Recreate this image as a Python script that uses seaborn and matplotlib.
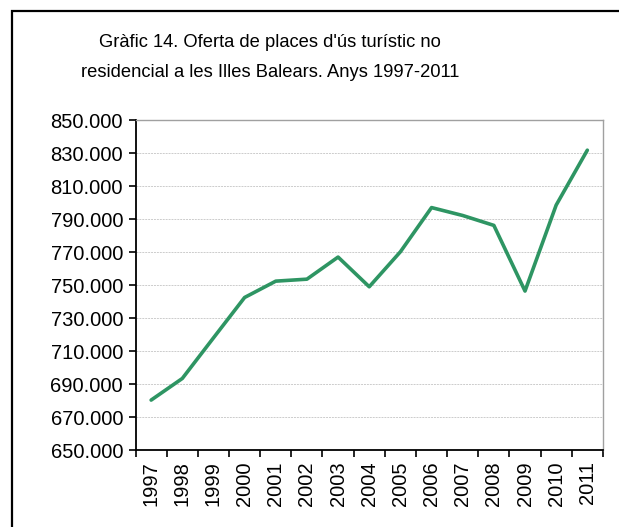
import matplotlib
matplotlib.use("Agg")
import matplotlib.pyplot as plt
import seaborn as sns
import pandas as pd
import numpy as np
from matplotlib.ticker import FuncFormatter, FixedLocator
from matplotlib.patches import Rectangle

years = ["1997", "1998", "1999", "2000", "2001", "2002", "2003", "2004",
         "2005", "2006", "2007", "2008", "2009", "2010", "2011"]
places = [680300, 693400, 718000, 742500, 752400, 753600, 767000, 749000,
          770200, 797000, 792200, 786200, 746400, 798500, 831800]
title = "Gràfic 14. Oferta de places d'ús turístic no\nresidencial a les Illes Balears. Anys 1997-2011"

sns.set_style("white")
plt.rcParams['font.family'] = ['Liberation Sans', 'DejaVu Sans']
plt.rcParams['text.color'] = 'black'
plt.rcParams['xtick.color'] = 'black'
plt.rcParams['ytick.color'] = 'black'

df = pd.DataFrame({"pos": np.arange(len(years)), "value": places})

fig = plt.figure(figsize=(6.19, 5.27), dpi=100)
ax = fig.add_axes([0.219, 0.146, 0.755, 0.626])

sns.lineplot(data=df, x="pos", y="value", ax=ax, color="#2E9563", linewidth=2.6)

ax.set_xlim(-0.5, len(years) - 0.5)
ax.set_ylim(650000, 850000)
ax.set_yticks(np.arange(650000, 850001, 20000))
ax.yaxis.set_major_formatter(FuncFormatter(lambda v, p: f"{int(v):,}".replace(",", ".")))
ax.xaxis.set_major_locator(FixedLocator(np.arange(-0.5, len(years), 1.0)))
ax.xaxis.set_minor_locator(FixedLocator(np.arange(len(years))))
ax.set_xticklabels([], minor=False)
ax.set_xticklabels(years, minor=True, rotation=90)
ax.tick_params(axis="x", which="minor", length=0, labelsize=14.5, pad=8, labelcolor="black")
ax.tick_params(axis="x", which="major", length=5, width=1.2, color="black", direction="out", bottom=True)
ax.tick_params(axis="y", length=5, width=1.2, color="black", direction="out", left=True,
               labelsize=14.5, pad=4, labelcolor="black")
ax.set_xlabel("")
ax.set_ylabel("")
ax.grid(axis="y", color="#cccccc", linewidth=0.7, linestyle=(0, (2, 1)))
ax.set_axisbelow(True)

for s in ["left", "bottom"]:
    ax.spines[s].set_color("black")
    ax.spines[s].set_linewidth(1.3)
for s in ["top", "right"]:
    ax.spines[s].set_color("#a0a0a0")
    ax.spines[s].set_linewidth(1.0)
    ax.spines[s].set_visible(True)

fig.text(0.436, 0.891, title, ha="center", va="center", fontsize=13.2, linespacing=1.95, color="black")

fig.patches.append(Rectangle((12 / 619, -0.1), 1.2, 1 - 11 / 527 + 0.1,
                             transform=fig.transFigure, fill=False,
                             edgecolor="black", linewidth=1.6, zorder=10))

fig.savefig("out.png", dpi=100, facecolor="white")
